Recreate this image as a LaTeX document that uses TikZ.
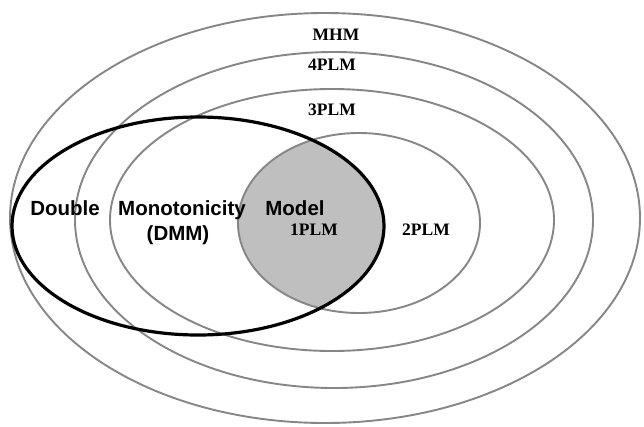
\documentclass[tikz,border=0pt]{standalone}
\usepackage{fontspec}
\setmainfont{Liberation Serif}
\newfontfamily\dmmfont{Liberation Sans}
\usetikzlibrary{positioning}

\begin{document}
\begin{tikzpicture}[
        x=1pt,
        y=-1pt,
        model/.style={
          draw=gray!95,
          line width=1.9pt
        },
        dmm/.style={
          draw=black,
          line width=3.2pt
        },
        plm/.style={
          font=\fontsize{17.5}{20}\selectfont\bfseries,
          inner sep=0pt,
          anchor=base
        },
        word/.style={
          font=\dmmfont\fontsize{20.5}{24}\selectfont\bfseries,
          inner sep=0pt,
          anchor=base
        }
      ]
      \useasboundingbox (0,0) rectangle (644,426);

      % shaded overlap of 2PLM and DMM
      \begin{scope}
        \clip (359,223) ellipse [x radius=121, y radius=90];
        \fill[gray!50] (198,226) ellipse [x radius=186, y radius=109];
      \end{scope}

      \draw[model] (325,218) ellipse [x radius=315, y radius=205];
      \draw[model] (334,220) ellipse [x radius=259, y radius=168];
      \draw[model] (332,220) ellipse [x radius=222, y radius=131];
      \draw[model] (359,223) ellipse [x radius=121, y radius=90];
      \draw[dmm]   (198,226) ellipse [x radius=186, y radius=109];

      \node[plm] (MHM)   at (336,40)  {MHM};
      \node[plm] (P4)    at (332,70)  {4PLM};
      \node[plm] (P3)    at (332,115) {3PLM};
      \node[plm] (P1)    at (314,235) {1PLM};
      \node[plm] (P2)    at (426,235) {2PLM};

      \node[word] (dbl)  at (65,215)  {Double};
      \node[word] (mono) at (182,215) {Monotonicity};
      \node[word] (mdl)  at (295,215) {Model};
      \node[word] (abbr) at (178,240) {(DMM)};
    \end{tikzpicture}
\end{document}
